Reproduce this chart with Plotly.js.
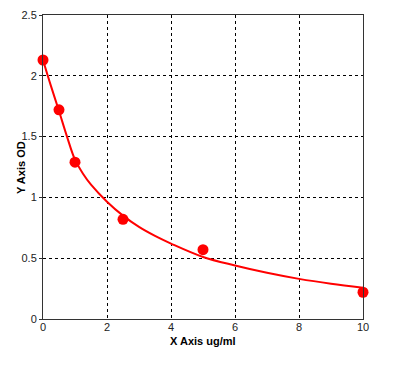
<!DOCTYPE html>
<html>
<head>
<meta charset="utf-8">
<script src="https://cdn.plot.ly/plotly-3.0.1.min.js"></script>
<style>html,body{margin:0;padding:0;background:#fff;}#chart{width:413px;height:369px;}</style>
</head>
<body>
<div id="chart"></div>
<script>
// Measured standard points
const pointX = [0, 0.5, 1, 2.5, 5, 10];
const pointY = [2.13, 1.72, 1.29, 0.82, 0.57, 0.22];
// Fitted curve
const curveX = [0, 0.25, 0.5, 0.75, 1, 1.25, 1.5, 2, 2.5, 3, 3.5, 4, 5, 6, 7, 8, 9, 10];
const curveY = [2.13, 1.915, 1.71, 1.50, 1.31, 1.195, 1.105, 0.965, 0.85, 0.757, 0.683, 0.62, 0.51, 0.44, 0.38, 0.33, 0.29, 0.257];
const xTicks = [0, 2, 4, 6, 8, 10];
const yTicks = [0, 0.5, 1, 1.5, 2, 2.5];
const yTickText = ['0', '0.5', '1', '1.5', '2', '2.5'];
const xTitle = 'X Axis ug/ml';
const yTitle = 'Y Axis OD';

const traces = [
  {x: curveX, y: curveY, mode: 'lines', type: 'scatter',
   line: {color: '#ff0000', width: 2, shape: 'spline', smoothing: 1}, hoverinfo: 'skip'},
  {x: pointX, y: pointY, mode: 'markers', type: 'scatter',
   marker: {color: '#ff0000', size: 11}, cliponaxis: false}
];
const fam = 'Arial, "Liberation Sans", sans-serif';
const font = {family: fam, size: 11, color: '#222'};
const titleFont = {family: fam, size: 11, color: '#000'};
const layout = {
  width: 413, height: 369,
  margin: {l: 43, r: 50, t: 15, b: 50},
  paper_bgcolor: '#fff', plot_bgcolor: '#fff',
  showlegend: false,
  font: font,
  xaxis: {
    range: [0, 10], tickvals: xTicks, ticktext: xTicks.map(String),
    showline: true, linecolor: '#333', linewidth: 1, mirror: true,
    showgrid: true, gridcolor: '#000', gridwidth: 1, griddash: '3px,3px',
    zeroline: false, ticks: '', tickfont: font, ticklabelstandoff: -2
  },
  yaxis: {
    range: [0, 2.5], tickvals: yTicks, ticktext: yTickText,
    showline: true, linecolor: '#333', linewidth: 1, mirror: true,
    showgrid: true, gridcolor: '#000', gridwidth: 1, griddash: '3px,3px',
    zeroline: false, ticks: 'outside', ticklen: 3, tickcolor: '#333',
    tickfont: font
  },
  annotations: [
    {text: '<b>' + xTitle + '</b>', xref: 'paper', yref: 'paper', x: 0.5, y: -0.072,
     xanchor: 'center', yanchor: 'middle', showarrow: false, font: titleFont},
    {text: '<b>' + yTitle + '</b>', xref: 'paper', yref: 'paper', x: -0.069, y: 0.5,
     xanchor: 'center', yanchor: 'middle', textangle: -90, showarrow: false, font: titleFont}
  ]
};
Plotly.newPlot('chart', traces, layout, {staticPlot: true, displayModeBar: false});
</script>
</body>
</html>
